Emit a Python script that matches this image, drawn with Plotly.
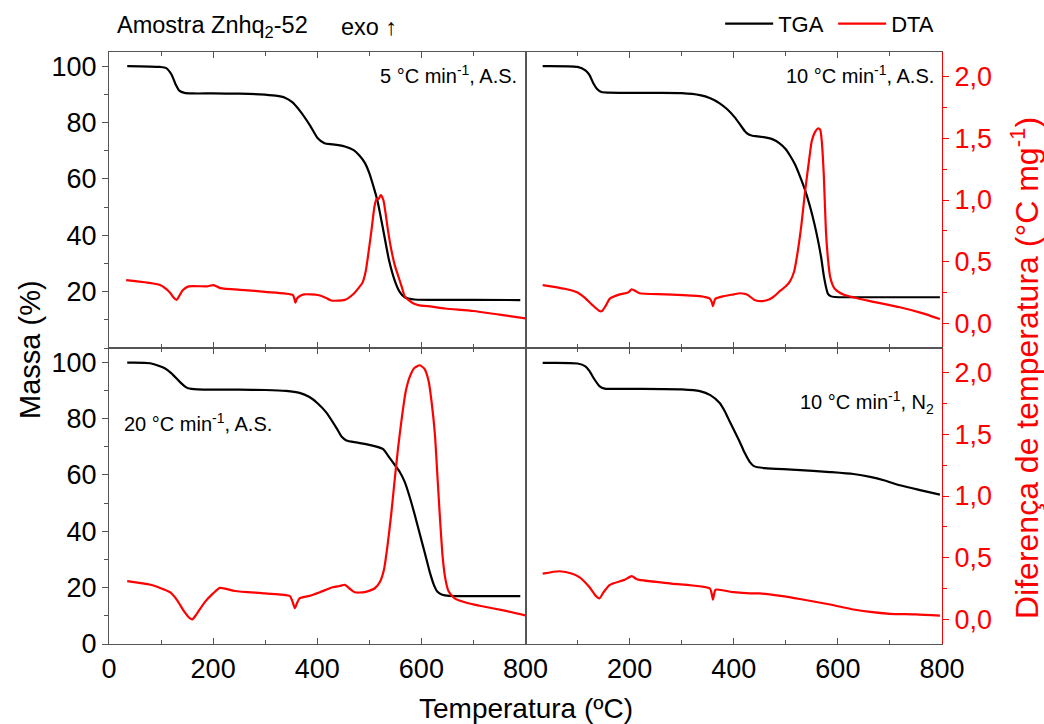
import plotly.graph_objects as go

# ---------------- data ----------------
# Panel 1: 5 °C/min, A.S. (top-left)
tl_tga_T = [35, 98, 110, 120, 128, 135, 145, 160, 200, 250, 290, 320, 338, 352, 366, 386, 401, 414, 430, 453, 470, 481, 492, 500, 510, 516, 527, 538, 549, 558, 568, 587, 700, 790]
tl_tga = [100, 99.7, 99.3, 97.0, 93.5, 91.3, 90.5, 90.3, 90.3, 90.2, 90.0, 89.5, 88.8, 87.2, 84.3, 79.0, 74.4, 72.6, 72.2, 71.5, 70.2, 68.3, 65.5, 62.0, 56.0, 52.0, 41.6, 31.0, 23.8, 20.0, 18.0, 17.2, 17.1, 17.0]
tl_dta_T = [33, 98, 117, 124, 130, 136, 142, 153, 188, 201, 214, 260, 300, 353, 356, 358, 361, 366, 375, 401, 415, 427, 453, 470, 480, 487, 493, 497, 504, 510, 514, 518, 522, 527, 531, 536, 543, 549, 555, 562, 568, 575, 585, 594, 620, 646, 700, 750, 800]
tl_dta = [0.35, 0.31, 0.25, 0.21, 0.19, 0.23, 0.27, 0.30, 0.30, 0.31, 0.285, 0.27, 0.255, 0.23, 0.20, 0.167, 0.20, 0.22, 0.235, 0.23, 0.21, 0.185, 0.19, 0.24, 0.29, 0.33, 0.42, 0.53, 0.75, 0.95, 1.01, 1.01, 1.04, 1.00, 0.90, 0.75, 0.58, 0.47, 0.39, 0.30, 0.22, 0.19, 0.16, 0.148, 0.135, 0.12, 0.10, 0.07, 0.04]

# Panel 2: 10 °C/min, A.S. (top-right)
tr_tga_T = [33, 100, 115, 123, 130, 137, 146, 160, 250, 300, 335, 355, 373, 388, 402, 412, 421, 428, 436, 445, 460, 475, 488, 500, 508, 518, 527, 537, 546, 555, 562, 568, 573, 578, 581, 586, 594, 650, 796]
tr_tga = [100, 99.7, 98.5, 96.8, 94.0, 92.0, 90.8, 90.6, 90.5, 90.4, 89.7, 88.6, 86.8, 84.6, 81.8, 79.3, 77.0, 75.8, 75.3, 75.1, 74.7, 74.0, 72.6, 70.5, 68.3, 65.0, 61.0, 56.0, 50.5, 44.0, 38.0, 32.0, 25.6, 21.0, 19.2, 18.4, 18.1, 18.0, 18.0]
tr_dta_T = [33, 75, 100, 113, 128, 142, 147, 155, 162, 181, 197, 204, 212, 219, 270, 335, 354, 358, 360, 362, 365, 380, 400, 412, 420, 427, 440, 455, 469, 478, 488, 500, 508, 516, 523, 530, 537, 544, 550, 556, 562, 566, 569, 573, 577, 581, 585, 590, 594, 603, 613, 662, 719, 760, 796]
tr_dta = [0.31, 0.28, 0.25, 0.21, 0.15, 0.10, 0.10, 0.15, 0.20, 0.235, 0.25, 0.276, 0.26, 0.244, 0.235, 0.22, 0.20, 0.17, 0.14, 0.17, 0.20, 0.22, 0.235, 0.244, 0.24, 0.23, 0.19, 0.18, 0.195, 0.22, 0.26, 0.30, 0.34, 0.42, 0.585, 0.80, 1.07, 1.30, 1.48, 1.55, 1.58, 1.57, 1.48, 1.20, 0.75, 0.52, 0.38, 0.31, 0.28, 0.25, 0.23, 0.18, 0.13, 0.085, 0.035]

# Panel 3: 20 °C/min, A.S. (bottom-left)
bl_tga_T = [35, 79, 107, 120, 136, 145, 152, 170, 250, 300, 340, 366, 385, 400, 418, 437, 447, 456, 475, 491, 510, 526, 539, 549, 558, 568, 577, 587, 597, 607, 616, 624, 631, 640, 654, 700, 790]
bl_tga = [99.8, 99.6, 97.8, 96.0, 93.0, 91.5, 90.7, 90.3, 90.2, 90.1, 89.8, 89.1, 87.6, 85.5, 82.0, 76.6, 73.5, 72.2, 71.5, 71.0, 70.2, 69.2, 66.0, 63.5, 61.2, 57.5, 52.5, 46.0, 39.0, 32.0, 25.6, 21.0, 18.5, 17.5, 17.1, 17.0, 17.0]
bl_dta_T = [35, 80, 117, 130, 145, 155, 160, 168, 184, 200, 213, 242, 300, 347, 352, 357, 362, 366, 385, 405, 430, 443, 453, 462, 472, 491, 510, 520, 528, 535, 542, 548, 555, 562, 570, 578, 587, 597, 606, 614, 620, 626, 631, 636, 641, 646, 652, 664, 690, 712, 760, 802]
bl_dta = [0.31, 0.28, 0.22, 0.16, 0.06, 0.01, 0.0, 0.04, 0.14, 0.21, 0.255, 0.23, 0.21, 0.19, 0.15, 0.09, 0.14, 0.17, 0.19, 0.22, 0.26, 0.27, 0.28, 0.25, 0.22, 0.22, 0.25, 0.30, 0.40, 0.60, 0.85, 1.10, 1.38, 1.62, 1.85, 1.97, 2.04, 2.06, 2.03, 1.93, 1.75, 1.50, 1.15, 0.80, 0.50, 0.33, 0.23, 0.17, 0.13, 0.11, 0.07, 0.03]

# Panel 4: 10 °C/min, N2 (bottom-right)
br_tga_T = [33, 100, 115, 123, 132, 142, 152, 200, 300, 335, 355, 373, 383, 392, 402, 412, 421, 431, 438, 446, 460, 520, 585, 630, 662, 690, 719, 760, 796]
br_tga = [99.7, 99.5, 98.5, 96.8, 94.0, 91.5, 90.6, 90.5, 90.3, 89.7, 88.3, 85.5, 82.5, 79.0, 75.3, 71.5, 67.8, 64.5, 63.2, 62.7, 62.4, 61.8, 61.0, 60.3, 59.3, 58.0, 56.3, 54.5, 53.0]
br_dta_T = [33, 65, 90, 104, 123, 135, 142, 150, 162, 190, 204, 212, 219, 280, 354, 358, 360, 362, 365, 400, 431, 450, 490, 527, 585, 630, 662, 700, 750, 796]
br_dta = [0.37, 0.39, 0.37, 0.34, 0.26, 0.19, 0.17, 0.22, 0.28, 0.32, 0.35, 0.33, 0.32, 0.29, 0.25, 0.20, 0.16, 0.20, 0.24, 0.22, 0.21, 0.21, 0.19, 0.165, 0.12, 0.08, 0.06, 0.045, 0.04, 0.03]

panel_labels = ["5 °C min<sup>-1</sup>, A.S.", "10 °C min<sup>-1</sup>, A.S.",
                "20 °C min<sup>-1</sup>, A.S.", "10 °C min<sup>-1</sup>, N<sub>2</sub>"]
x_ticks = [0, 200, 400, 600, 800]
mass_ticks = [0, 20, 40, 60, 80, 100]
dta_ticks = [0.0, 0.5, 1.0, 1.5, 2.0]

panels = [
    (tl_tga_T, tl_tga, tl_dta_T, tl_dta),
    (tr_tga_T, tr_tga, tr_dta_T, tr_dta),
    (bl_tga_T, bl_tga, bl_dta_T, bl_dta),
    (br_tga_T, br_tga, br_dta_T, br_dta),
]

FONT = "Liberation Sans, Arial, sans-serif"
AXC = "#555555"
RED = "#ff0000"

ML, MR, MT, MB = 109, 102, 52, 80
W, H = 1044, 724
PW, PH = W - ML - MR, H - MT - MB

fig = go.Figure()
for i, (tT, tm, dT, dv) in enumerate(panels):
    n = i + 1
    xa = "x" if n == 1 else f"x{n}"
    ym = "y" if n == 1 else f"y{2*n-1}"
    yd = f"y{2*n}"
    fig.add_trace(go.Scatter(x=tT, y=tm, xaxis=xa, yaxis=ym, mode="lines",
                             line=dict(color="black", width=2.2, shape="spline", smoothing=0.6),
                             name="TGA", showlegend=(n == 1)))
    fig.add_trace(go.Scatter(x=dT, y=dv, xaxis=xa, yaxis=yd, mode="lines",
                             line=dict(color=RED, width=2.2, shape="spline", smoothing=0.6),
                             name="DTA", showlegend=(n == 1)))

xdom = [[0, 0.5], [0.5, 1], [0, 0.5], [0.5, 1]]
ydom = [[0.5, 1], [0.5, 1], [0, 0.5], [0, 0.5]]

layout = dict(
    width=W, height=H,
    margin=dict(l=ML, r=MR, t=MT, b=MB, autoexpand=False),
    paper_bgcolor="white", plot_bgcolor="white",
    font=dict(family=FONT, color="black", size=24),
    separators=",.",
    showlegend=True,
    legend=dict(orientation="h", x=1.005, xanchor="right", y=1.012, yanchor="bottom",
                font=dict(size=22), bgcolor="rgba(0,0,0,0)", itemwidth=48,
                entrywidth=50, entrywidthmode="pixels",
                traceorder="normal", tracegroupgap=0),
)

for i in range(4):
    n = i + 1
    xkey = "xaxis" if n == 1 else f"xaxis{n}"
    ymkey = "yaxis" if n == 1 else f"yaxis{2*n-1}"
    ydkey = f"yaxis{2*n}"
    ym = "y" if n == 1 else f"y{2*n-1}"
    xa = "x" if n == 1 else f"x{n}"
    bottom = n in (3, 4)
    left = n in (1, 3)
    layout[xkey] = dict(
        domain=xdom[i], anchor=ym, range=[0, 800],
        tickvals=(x_ticks if n == 3 else x_ticks[1:]) if bottom else x_ticks,
        showticklabels=bottom, ticks="inside", ticklen=6, tickcolor=AXC,
        minor=dict(dtick=100, ticks="inside", ticklen=4, tickcolor=AXC),
        showline=True, linecolor=AXC, linewidth=1.2, mirror="ticks",
        showgrid=False, zeroline=False,
        tickfont=dict(size=27), fixedrange=True,
    )
    layout[ymkey] = dict(
        domain=ydom[i], anchor=xa, range=[0, 105],
        tickvals=(mass_ticks if n == 3 else mass_ticks[1:]) if left else mass_ticks,
        showticklabels=left, ticks="outside" if left else "", ticklen=6, tickcolor=AXC,
        minor=dict(dtick=10, ticks="outside", ticklen=4, tickcolor=AXC) if left else dict(ticks=""),
        showline=True, linecolor=AXC, linewidth=1.2, mirror=True,
        showgrid=False, zeroline=False,
        tickfont=dict(size=27), fixedrange=True,
    )
    if left:
        layout[ydkey] = dict(overlaying=ym, anchor=xa, range=[-0.2, 2.2],
                             visible=False, fixedrange=True)
    else:
        layout[ydkey] = dict(
            overlaying=ym, anchor=xa, side="right", range=[-0.2, 2.2],
            tickvals=dta_ticks, tickformat=".1f",
            ticks="outside", ticklen=6, tickcolor=RED,
            minor=dict(dtick=0.25, ticks="outside", ticklen=4, tickcolor=RED),
            showline=True, linecolor=RED, linewidth=1.2,
            showgrid=False, zeroline=False,
            tickfont=dict(size=27, color=RED), fixedrange=True,
        )

fig.update_layout(**layout)

def px_x(px):
    return (px - ML) / PW

def px_y(py):
    return (H - MB - py) / PH

ann = [
    dict(text="Amostra Znhq<sub>2</sub>-52", x=px_x(115), y=px_y(27), xanchor="left", yanchor="middle",
         font=dict(size=23.5)),
    dict(text="exo ↑", x=px_x(339), y=px_y(27), xanchor="left", yanchor="middle",
         font=dict(size=23.5, color="black")),
    dict(text=panel_labels[0], x=px_x(519), y=px_y(74), xanchor="right", yanchor="middle", font=dict(size=20)),
    dict(text=panel_labels[1], x=px_x(936), y=px_y(74), xanchor="right", yanchor="middle", font=dict(size=20)),
    dict(text=panel_labels[2], x=px_x(122), y=px_y(422), xanchor="left", yanchor="middle", font=dict(size=20)),
    dict(text=panel_labels[3], x=px_x(936), y=px_y(402), xanchor="right", yanchor="middle", font=dict(size=20)),
    dict(text="Massa (%)", x=px_x(30), y=px_y(350), xanchor="center", yanchor="middle", textangle=-90,
         font=dict(size=29)),
    dict(text="Temperatura (ºC)", x=0.5, y=px_y(708), xanchor="center", yanchor="middle",
         font=dict(size=28)),
    dict(text="Diferença de temperatura (°C mg<sup>-1</sup>)", x=px_x(1025), y=px_y(368),
         xanchor="center", yanchor="middle", textangle=-90, font=dict(size=32, color=RED)),
]
for a in ann:
    a.update(xref="paper", yref="paper", showarrow=False)
fig.update_layout(annotations=ann)

fig.write_html("out.html")
